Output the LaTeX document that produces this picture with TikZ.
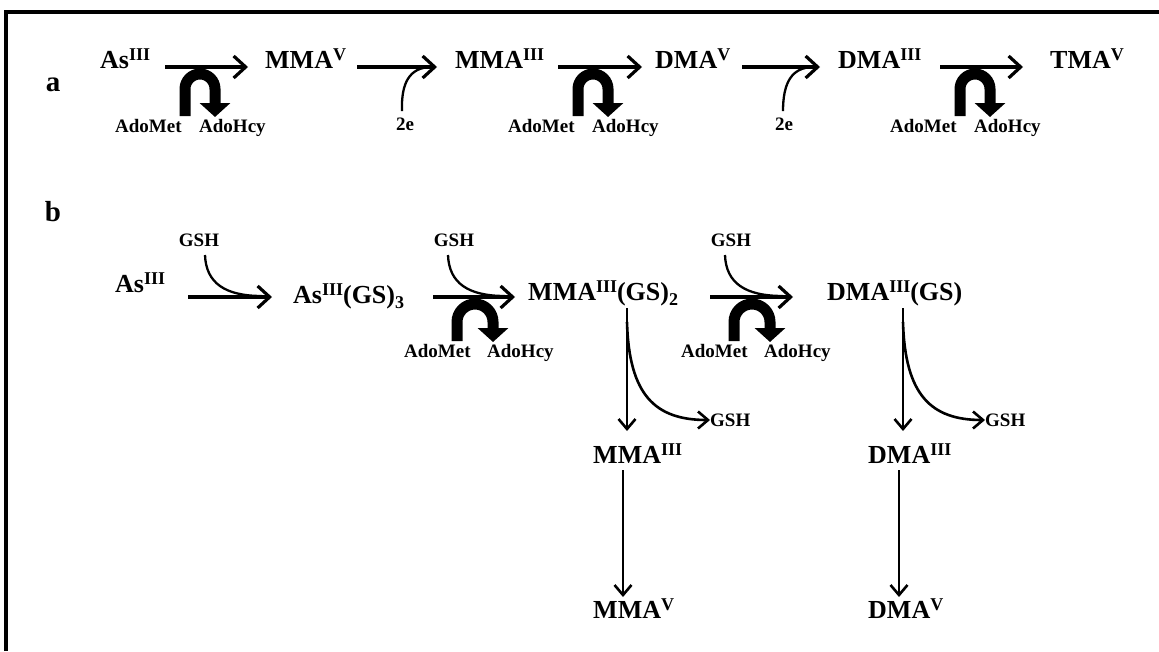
\documentclass[tikz,border=0pt]{standalone}
\usepackage{fontspec}
\usepackage{graphicx}
\setmainfont{Liberation Serif}
\usetikzlibrary{arrows.meta}
\newcommand\supr[1]{\raisebox{8pt}{\fontsize{18}{18}\selectfont #1}}
\newcommand\subr[1]{\raisebox{-5pt}{\fontsize{18}{18}\selectfont #1}}
\begin{document}
\begin{tikzpicture}[x=1pt,y=-1pt,
  lbl/.style={font=\fontsize{26}{30}\selectfont\bfseries, inner sep=0pt, anchor=base west},
  sml/.style={font=\fontsize{19}{22}\selectfont\bfseries, inner sep=0pt},
  panel/.style={font=\fontsize{29}{34}\selectfont\bfseries, inner sep=0pt},
  rxn/.style={line width=3.2pt, -{Straight Barb[length=12pt,width=22pt]}},
  vrxn/.style={line width=2.6pt, -{Straight Barb[length=10pt,width=17pt]}},
  thin/.style={line width=2.3pt},
  fat/.style={line width=11pt, -{Triangle[length=14pt,width=30pt]}}]
\useasboundingbox (0,0) rectangle (1159,651);
% frame
\draw[line width=4pt] (6,651) -- (6,12) -- (1159,12);

% ---------- panel a ----------
\node[panel] (pa) at (53,85) {a};
\node[lbl] (asA)  at (100,68) {As\supr{III}};
\node[lbl] (mmaVA) at (265,68) {MMA\supr{V}};
\node[lbl] (mmaIIIA) at (455,68) {MMA\supr{III}};
\node[lbl] (dmaVA) at (655,68) {DMA\supr{V}};
\node[lbl] (dmaIIIA) at (838,68) {DMA\supr{III}};
\node[lbl] (tmaVA) at (1050,68) {TMA\supr{V}};

\coordinate (a1s) at (165,67); \coordinate (a1e) at (248,67);
\coordinate (a2s) at (357,67); \coordinate (a2e) at (437,67);
\coordinate (a3s) at (558,67); \coordinate (a3e) at (642,67);
\coordinate (a4s) at (742,67); \coordinate (a4e) at (820,67);
\coordinate (a5s) at (940,67); \coordinate (a5e) at (1023,67);
\draw[rxn] (a1s) -- (a1e);
\draw[rxn] (a2s) -- (a2e);
\draw[rxn] (a3s) -- (a3e);
\draw[rxn] (a4s) -- (a4e);
\draw[rxn] (a5s) -- (a5e);

% AdoMet / AdoHcy in panel a
\foreach \s/\n in {165/1,558/2,940/3}{
  \node[sml, anchor=base west] (amA\n) at (\s-50,132) {AdoMet};
  \node[sml, anchor=base west] (ahA\n) at (\s+34,132) {AdoHcy};
  \draw[fat] (\s+20,116) -- (\s+20,89) arc[start angle=180,end angle=360,radius=15] -- (\s+50,117);
}
% 2e
\node[sml, anchor=base] (e1) at (405,130) {2e};
\node[sml, anchor=base] (e2) at (784,130) {2e};
\draw[thin] (e1.north) ++(-3,-6) .. controls (401,82) and (410,68) .. (430,67);
\draw[thin] (e2.north) ++(-1,-6) .. controls (783,82) and (792,68) .. (812,67);

% ---------- panel b ----------
\node[panel] (pb) at (53,212) {b};
\node[lbl] (asB) at (115,292) {As\supr{III}};
\node[lbl] (asGS) at (293,303) {As\supr{III}(GS)\subr{3}};
\node[lbl] (mmaGS) at (528,300) {MMA\supr{III}(GS)\subr{2}};
\node[lbl] (dmaGS) at (827,300) {DMA\supr{III}(GS)};
\node[lbl] (mmaIIIB) at (593,463) {MMA\supr{III}};
\node[lbl] (dmaIIIB) at (868,463) {DMA\supr{III}};
\node[lbl] (mmaVB) at (593,618) {MMA\supr{V}};
\node[lbl] (dmaVB) at (868,618) {DMA\supr{V}};

\node[sml] (g1) at (199,240) {GSH};
\node[sml] (g2) at (454,240) {GSH};
\node[sml] (g3) at (731,240) {GSH};
\node[sml, anchor=west] (g4) at (710,420) {GSH};
\node[sml, anchor=west] (g5) at (985,420) {GSH};

\coordinate (b1s) at (188,297); \coordinate (b1e) at (272,297);
\coordinate (b2s) at (433,297); \coordinate (b2e) at (515,297);
\coordinate (b3s) at (710,297); \coordinate (b3e) at (793,297);
\draw[rxn] (b1s) -- (b1e);
\draw[rxn] (b2s) -- (b2e);
\draw[rxn] (b3s) -- (b3e);

% GSH entering
\draw[thin] (205,255) .. controls (206,283) and (225,296) .. (262,296);
\draw[thin] (448,255) .. controls (449,283) and (468,296) .. (505,296);
\draw[thin] (725,255) .. controls (726,283) and (745,296) .. (783,296);

% AdoMet / AdoHcy in panel b
\foreach \s/\n in {433/1,710/2}{
  \node[sml, anchor=base west] (amB\n) at (\s-29,357) {AdoMet};
  \node[sml, anchor=base west] (ahB\n) at (\s+54,357) {AdoHcy};
  \draw[fat] (\s+24,341) -- (\s+24,322) arc[start angle=180,end angle=360,radius=18] -- (\s+60,342);
}

% vertical branches
\coordinate (m1) at (627,308); \coordinate (m2) at (627,431);
\coordinate (d1) at (903,308); \coordinate (d2) at (903,431);
\draw[vrxn] (m1) -- (m2);
\draw[vrxn] (d1) -- (d2);
\draw[vrxn] (627,322) .. controls (629,395) and (655,420) .. (g4.west);
\draw[vrxn] (903,322) .. controls (905,395) and (931,420) .. (g5.west);

\coordinate (m3) at (623,470); \coordinate (m4) at (623,597);
\coordinate (d3) at (899,470); \coordinate (d4) at (899,597);
\draw[vrxn] (m3) -- (m4);
\draw[vrxn] (d3) -- (d4);
\end{tikzpicture}
\end{document}
